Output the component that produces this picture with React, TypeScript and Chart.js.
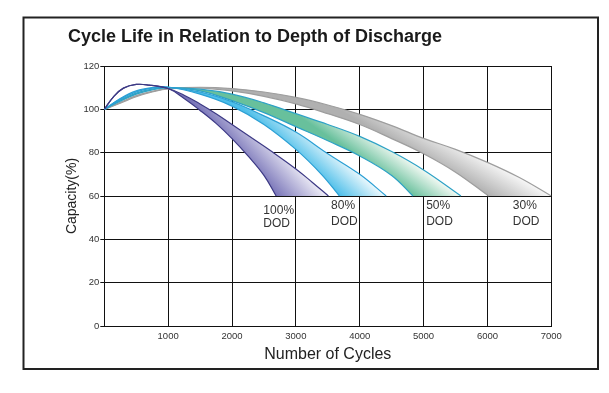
import React, { useEffect, useRef } from 'react';
import { Chart, registerables } from 'chart.js';

Chart.register(...registerables);

// ---- text ----
const chartTitle = 'Cycle Life in Relation to Depth of Discharge';
const xTitle = 'Number of Cycles';
const yTitle = 'Capacity(%)';

// ---- ticks ----
const xTicks = [0, 1000, 2000, 3000, 4000, 5000, 6000, 7000];
const yTicks = [0, 20, 40, 60, 80, 100, 120];

// ---- band edges: [cycles, capacity %] ----
type Pt = [number, number];
const dod100Inner: Pt[] = [
  [0, 100], [150, 106], [300, 109.8], [500, 111.5], [700, 111.2], [1000, 109.6],
  [1250, 105], [1500, 99.5], [1750, 93.5], [2000, 86.5], [2250, 78.5], [2500, 69.5], [2691, 60],
];
const dod100Outer: Pt[] = [
  [0, 100], [150, 106], [300, 109.8], [500, 111.5], [700, 111.2], [1000, 109.6], [1250, 106.5],
  [1500, 102.5], [1750, 98], [2000, 93], [2300, 87], [2600, 81], [3000, 72.5], [3250, 66.5], [3510, 60],
];
const dod80Inner: Pt[] = [
  [0, 100], [250, 105], [500, 108.5], [750, 110], [1000, 110.3], [1500, 107],
  [2000, 101.5], [2500, 93], [3000, 81.5], [3400, 70], [3683, 60],
];
const dod80Outer: Pt[] = [
  [0, 100], [250, 104.6], [500, 108], [750, 109.8], [1000, 110.2], [1500, 108],
  [2000, 103.5], [2500, 97], [3000, 89.5], [3500, 79.5], [4000, 70], [4415, 60],
];
const dod50Inner: Pt[] = [
  [0, 100], [250, 104.2], [500, 107.5], [750, 109.3], [1000, 110], [1500, 108.5],
  [2000, 104], [2500, 98.5], [3000, 92], [3500, 85.5], [4000, 78.5], [4500, 69.5], [4833, 60],
];
const dod50Outer: Pt[] = [
  [0, 100], [250, 103.8], [500, 107], [750, 109], [1000, 110], [1500, 109.3],
  [2000, 107], [2500, 103], [3000, 98], [3500, 93], [4000, 87.5], [4500, 80.5], [5000, 72], [5585, 60],
];
const dod30Inner: Pt[] = [
  [0, 100], [250, 102.8], [500, 105.8], [750, 108], [1000, 109.4], [1500, 109.8],
  [2000, 108.5], [2500, 106], [3000, 102.5], [3500, 98], [4000, 93], [4500, 86.5], [5000, 79.5], [5500, 71], [6018, 60],
];
const dod30Outer: Pt[] = [
  [0, 100], [250, 103.2], [500, 106.3], [750, 108.3], [1000, 109.6], [1500, 110.2],
  [2000, 109.6], [2500, 108], [3000, 105.5], [3500, 102], [4000, 97.7], [4500, 92.5], [5000, 86.6],
  [5500, 81.5], [6000, 75.5], [6500, 68.5], [7000, 60],
];

const bandNames = ['100% DOD', '80% DOD', '50% DOD', '30% DOD'];
const bandInner = [dod100Inner, dod80Inner, dod50Inner, dod30Inner];
const bandOuter = [dod100Outer, dod80Outer, dod50Outer, dod30Outer];

// ---- in-plot labels ----
const labelLine1 = ['100%', '80%', '50%', '30%'];
const labelLine2 = ['DOD', 'DOD', 'DOD', 'DOD'];
const labelCycles = [2491, 3552, 5040, 6398];
const labelCap1 = [53.2, 55.4, 55.4, 55.4];
const labelCap2 = [47.4, 48.1, 48.1, 48.1];

// ---- styles ----
const FAMILY = "'Liberation Sans', Arial, Helvetica, sans-serif";
const strokeColors = ['#3d3a85', '#2b9fd4', '#2ea2c6', '#9e9e9e'];
const fillDark = ['#7874b8', '#4cbee9', '#68c09c', '#b0b0b0'];
const fillLight = ['#f1f0f8', '#eef9fd', '#f2f9f3', '#f6f6f6'];
const gradAngle = [42, 48, 55, 60];

const toXY = (pts: Pt[]) => pts.map(([x, y]) => ({ x, y }));

function bandShape(inner: Pt[], outer: Pt[]) {
  const a = toXY(inner);
  const b = toXY(outer).reverse();
  const c1 = a[a.length - 1];
  const c2 = b[0];
  // duplicated corners keep the bottom edge straight
  return [...a, { ...c1 }, { ...c2 }, ...b];
}

function gradientFor(chart: any, i: number) {
  const { ctx, chartArea, scales } = chart;
  if (!chartArea || !scales || !scales.x || !scales.y) return fillDark[i];
  const inner = bandInner[i];
  const outer = bandOuter[i];
  const e1 = inner[inner.length - 1];
  const e2 = outer[outer.length - 1];
  const ax = scales.x.getPixelForValue(e1[0]);
  const ay = scales.y.getPixelForValue(e1[1]);
  const cx = scales.x.getPixelForValue(e2[0]);
  const th = (gradAngle[i] * Math.PI) / 180;
  const ux = Math.cos(th);
  const uy = -Math.sin(th);
  const len = (cx - ax) * ux;
  const g = ctx.createLinearGradient(ax, ay, ax + ux * len, ay + uy * len);
  g.addColorStop(0, fillDark[i]);
  g.addColorStop(1, fillLight[i]);
  return g;
}

const framePlugin = {
  id: 'frame',
  beforeDraw(chart: any) {
    const { ctx, width, height } = chart;
    ctx.save();
    ctx.fillStyle = '#ffffff';
    ctx.fillRect(0, 0, width, height);
    ctx.strokeStyle = '#222222';
    ctx.lineWidth = 2;
    ctx.strokeRect(23.5, 17.5, 574.5, 351.5);
    ctx.restore();
  },
};

const labelPlugin = {
  id: 'bandLabels',
  afterDatasetsDraw(chart: any) {
    const { ctx, scales } = chart;
    ctx.save();
    ctx.fillStyle = '#333333';
    ctx.font = `12px ${FAMILY}`;
    ctx.textAlign = 'left';
    ctx.textBaseline = 'middle';
    labelLine1.forEach((t, i) => {
      const x = scales.x.getPixelForValue(labelCycles[i]);
      ctx.fillText(t, x, scales.y.getPixelForValue(labelCap1[i]));
      ctx.fillText(labelLine2[i], x, scales.y.getPixelForValue(labelCap2[i]));
    });
    ctx.restore();
  },
};

export default function App() {
  const ref = useRef<HTMLCanvasElement>(null);

  useEffect(() => {
    const canvas = ref.current;
    if (!canvas) return;
    const datasets: any[] = [];
    bandInner.forEach((inner, i) => {
      const outer = bandOuter[i];
      datasets.push({
        label: bandNames[i] + ' inner',
        data: toXY(inner),
        borderColor: strokeColors[i],
        borderWidth: 1.2,
        fill: false,
        pointRadius: 0,
        tension: 0.4,
      });
      datasets.push({
        label: bandNames[i] + ' outer',
        data: toXY(outer),
        borderColor: strokeColors[i],
        borderWidth: 1.2,
        fill: false,
        pointRadius: 0,
        tension: 0.4,
      });
      datasets.push({
        label: bandNames[i],
        data: bandShape(inner, outer),
        borderColor: 'rgba(0,0,0,0)',
        borderWidth: 0,
        fill: 'shape',
        backgroundColor: (c: any) => gradientFor(c.chart, i),
        pointRadius: 0,
        tension: 0.4,
      });
    });

    const chart = new Chart(canvas, {
      type: 'line',
      data: { datasets },
      plugins: [framePlugin, labelPlugin],
      options: {
        responsive: false,
        devicePixelRatio: 1,
        animation: false,
        events: [],
        font: { family: FAMILY },
        layout: { padding: { left: 68, top: 20, right: 57.7, bottom: 23 } },
        plugins: {
          legend: { display: false },
          tooltip: { enabled: false },
          title: {
            display: true,
            text: chartTitle,
            align: 'start',
            color: '#1a1a1a',
            font: { size: 18, weight: 'bold', family: FAMILY },
            padding: { top: 6, bottom: 18.4 },
          },
        },
        scales: {
          x: {
            type: 'linear',
            min: 0,
            max: 7000,
            afterBuildTicks: (s: any) => {
              s.ticks = xTicks.map((v) => ({ value: v }));
            },
            afterFit: (s: any) => {
              s.height = 44;
            },
            ticks: {
              color: '#333333',
              font: { size: 9.5, family: FAMILY },
              padding: 5,
              maxRotation: 0,
              autoSkip: false,
              callback: (v: any) => (v === 0 ? '' : String(v)),
            },
            grid: { color: '#111111', lineWidth: 1, drawTicks: false },
            border: { color: '#111111', width: 1 },
            title: {
              display: true,
              text: xTitle,
              color: '#222222',
              font: { size: 16, family: FAMILY },
              padding: { top: 0, bottom: 5.4 },
            },
          },
          y: {
            type: 'linear',
            min: 0,
            max: 120,
            afterBuildTicks: (s: any) => {
              s.ticks = yTicks.map((v) => ({ value: v }));
            },
            afterFit: (s: any) => {
              s.width = 36.3;
            },
            ticks: {
              color: '#333333',
              font: { size: 9.5, family: FAMILY },
              padding: 1,
              callback: (v: any) => String(v),
            },
            grid: { color: '#111111', lineWidth: 1, drawTicks: true, tickLength: 4 },
            border: { color: '#111111', width: 1 },
            title: {
              display: true,
              text: yTitle,
              color: '#222222',
              font: { size: 14, family: FAMILY },
              padding: { top: -4.7, bottom: 0 },
            },
          },
        },
      } as any,
    });
    return () => chart.destroy();
  }, []);

  return (
    <div style={{ position: 'fixed', left: 0, top: 0, width: 609, height: 393, background: '#fff' }}>
      <canvas ref={ref} width={609} height={393} style={{ display: 'block', width: 609, height: 393 }} />
    </div>
  );
}
